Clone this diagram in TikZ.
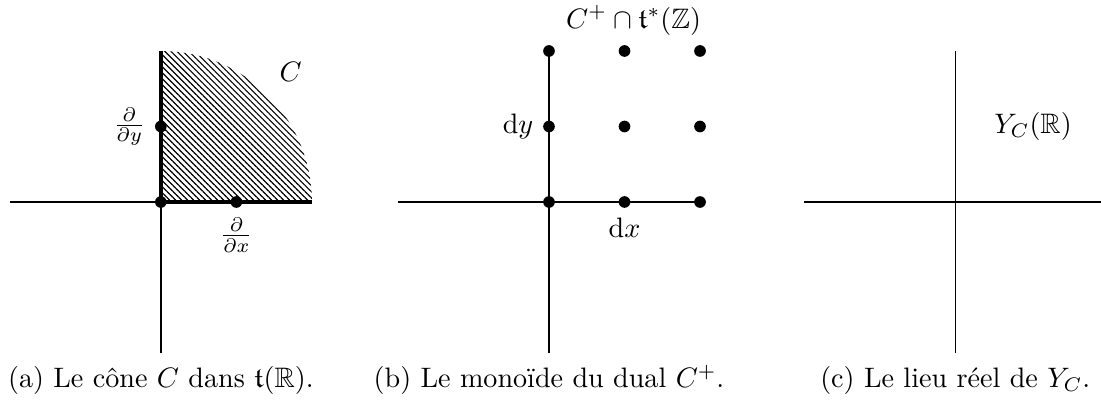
\RequirePackage{fix-cm}
\documentclass[tikz,border=0pt]{standalone}
\usepackage{fontspec}
\usepackage{amsmath,amssymb}
\usetikzlibrary{positioning, patterns.meta}

\begin{document}
\begin{tikzpicture}[
        every node/.style={font=\fontsize{10.6}{12.7}\selectfont},
        dot/.style={circle, fill, inner sep=0pt, minimum size=4.4pt},
        axe/.style={line width=0.5pt},
        bord/.style={line width=1.5pt},
        hachures/.style={pattern={Lines[angle=-45, distance=1.6pt, line width=0.45pt]}},
        legende/.style={anchor=base}
        ]
        \useasboundingbox (-2.13,-2.66) rectangle (12.45,2.675);

        % (a) le cone C
        \fill[hachures] (0,0) -- (2,0) arc[start angle=0, end angle=90, radius=2] -- cycle;
        \coordinate (ga) at (-2,0);
        \coordinate (da) at (2,0);
        \coordinate (ba) at (0,-2);
        \coordinate (ha) at (0,2);
        \draw[axe] (ga) -- (da);
        \draw[axe] (ba) -- (ha);
        \node[dot] (oa)  at (0,0) {};
        \draw[bord] (ha) -- (oa.center) -- (da);
        \node[dot] (dxa) at (1,0) {};
        \node[dot] (dya) at (0,1) {};
        \node[below=0pt of dxa] (fx) {$\frac{\partial}{\partial x}$};
        \node[left=0pt of dya]  (fy) {$\frac{\partial}{\partial y}$};
        \node (cone) at (1.72,1.72) {$C$};
        \node[legende] (capa) at (0,-2.46) {(a) Le cône $C$ dans $\mathfrak{t}(\mathbb{R})$.};

        % (b) le monoide
        \begin{scope}[xshift=5.14cm]
            \coordinate (gb) at (-2,0);
            \coordinate (db) at (2,0);
            \coordinate (bb) at (0,-2);
            \coordinate (hb) at (0,2);
            \draw[axe] (gb) -- (db);
            \draw[axe] (bb) -- (hb);
            \foreach \i in {0,1,2}
                \foreach \j in {0,1,2}
                    \node[dot] (b\i\j) at (\i,\j) {};
            \node[left=0pt of b01]  (dy) {$\mathrm{d}y$};
            \node[below=0pt of b10] (dx) {$\mathrm{d}x$};
            \node[above=0pt of b12, xshift=0.12cm] (mono) {$C^+\cap\mathfrak{t}^*(\mathbb{Z})$};
            \node[legende] (capb) at (0,-2.46) {(b) Le monoïde du dual $C^+$.};
        \end{scope}

        % (c) le lieu reel
        \begin{scope}[xshift=10.52cm]
            \coordinate (gc) at (-2,0);
            \coordinate (dc) at (2,0);
            \coordinate (bc) at (0,-2);
            \coordinate (hc) at (0,2);
            \draw[axe] (gc) -- (dc);
            \draw[axe] (bc) -- (hc);
            \node (lieu) at (1.03,1) {$Y_C(\mathbb{R})$};
            \node[legende] (capc) at (0,-2.46) {(c) Le lieu réel de $Y_C$.};
        \end{scope}
    \end{tikzpicture}
\end{document}
